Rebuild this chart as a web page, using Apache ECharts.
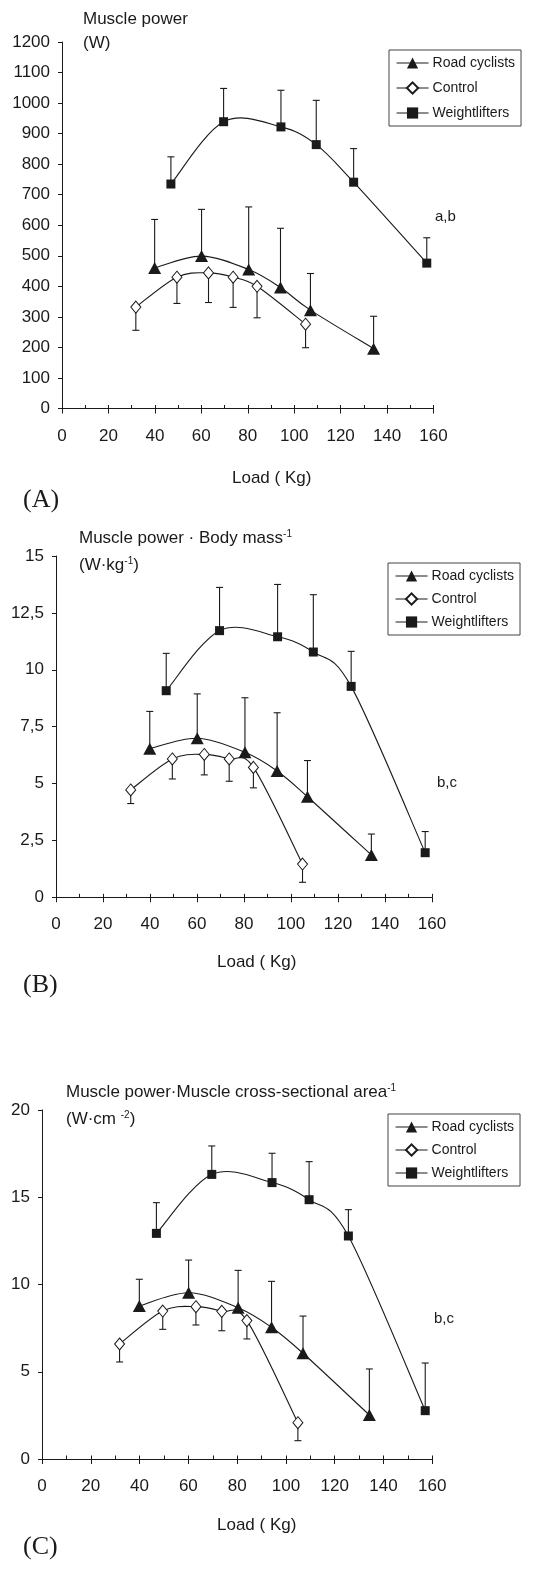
<!DOCTYPE html>
<html><head><meta charset="utf-8">
<script src="https://cdn.jsdelivr.net/npm/echarts@6/dist/echarts.min.js"></script>
<style>html,body{margin:0;padding:0;background:#fff}#c{width:557px;height:1589px}</style>
</head><body><div id="c"></div>
<script>
// ---- data ----
const seriesNames = ['Road cyclists', 'Control', 'Weightlifters'];
const loadCyclists = [39.9, 60.1, 80.4, 94.1, 107.0, 134.2];
const loadControl  = [31.8, 49.5, 63.1, 73.7, 84.0, 104.9];
const loadLifters  = [46.9, 69.6, 94.3, 109.5, 125.6, 157.1];

// (A) Muscle power (W)
const powerCyclists = [460, 499, 455, 396, 322, 196];
const powerCyclistsSD = [159, 153, 205, 194, 120, 106];
const powerControl = [332, 430, 444, 430, 400, 276];
const powerControlSD = [76, 86, 97, 99, 103, 77];
const powerLifters = [735, 939, 922, 864, 741, 476];
const powerLiftersSD = [89, 109, 120, 145, 110, 83];

// (B) Muscle power · body mass^-1 (W·kg^-1)
const massCyclists = [6.53, 6.99, 6.37, 5.55, 4.42, 1.86];
const massCyclistsSD = [1.64, 1.95, 2.40, 2.56, 1.59, 0.92];
const massControl = [4.72, 6.08, 6.28, 6.08, 5.71, 1.46];
const massControlSD = [0.60, 0.88, 0.90, 0.98, 0.90, 0.80];
const massLifters = [9.08, 11.72, 11.45, 10.78, 9.27, 1.96];
const massLiftersSD = [1.64, 1.90, 2.30, 2.52, 1.54, 0.93];

// (C) Muscle power · muscle CSA^-1 (W·cm^-2)
const csaCyclists = [8.77, 9.53, 8.67, 7.55, 6.06, 2.52];
const csaCyclistsSD = [1.53, 1.87, 2.14, 2.63, 2.13, 2.64];
const csaControl = [6.59, 8.48, 8.73, 8.46, 7.93, 2.08];
const csaControlSD = [1.03, 1.05, 1.05, 1.11, 1.05, 1.03];
const csaLifters = [12.93, 16.31, 15.84, 14.86, 12.78, 2.77];
const csaLiftersSD = [1.76, 1.63, 1.68, 2.18, 1.51, 2.73];

const annotations = ['a,b', 'b,c', 'b,c'];

// ---- styles ----
const FONT = '"Liberation Sans", Arial, sans-serif';
const INK = '#1a1a1a';
const panels = [
  { grid: { left: 62, top: 42, width: 371.5, height: 366.5 }, y: { max: 1200, interval: 100 },
    data: [[loadCyclists, powerCyclists, powerCyclistsSD, 1], [loadControl, powerControl, powerControlSD, -1], [loadLifters, powerLifters, powerLiftersSD, 1]],
    legend: { left: 389, top: 50, gap: 11 } },
  { grid: { left: 56, top: 556, width: 376, height: 341.3 }, y: { max: 15, interval: 2.5, comma: true },
    data: [[loadCyclists, massCyclists, massCyclistsSD, 1], [loadControl, massControl, massControlSD, -1], [loadLifters, massLifters, massLiftersSD, 1]],
    legend: { left: 388, top: 563, gap: 9 } },
  { grid: { left: 42, top: 1110, width: 390.3, height: 349 }, y: { max: 20, interval: 5 },
    data: [[loadCyclists, csaCyclists, csaCyclistsSD, 1], [loadControl, csaControl, csaControlSD, -1], [loadLifters, csaLifters, csaLiftersSD, 1]],
    legend: { left: 388, top: 1114, gap: 9 } }
];

const symbols = [
  { symbol: 'triangle', symbolSize: [13, 12], itemStyle: { color: INK, borderColor: INK, borderWidth: 0 } },
  { symbol: 'diamond', symbolSize: [10, 12], itemStyle: { color: '#fff', borderColor: INK, borderWidth: 1 } },
  { symbol: 'rect', symbolSize: [9, 9], itemStyle: { color: INK, borderColor: INK, borderWidth: 0 } }
];

function errRender(params, api) {
  const x = api.value(0), y = api.value(1), e = api.value(2);
  const p0 = api.coord([x, y]);
  const p1 = api.coord([x, e]);
  const st = { stroke: INK, lineWidth: 1.1 };
  return { type: 'group', children: [
    { type: 'line', shape: { x1: p0[0], y1: p0[1], x2: p1[0], y2: p1[1] }, style: st },
    { type: 'line', shape: { x1: p1[0] - 3.5, y1: p1[1], x2: p1[0] + 3.5, y2: p1[1] }, style: st }
  ]};
}

// Spreadsheet-style smoothed line (Catmull-Rom Bezier) through the data points, via the axes' coord()
function curveRender(xs, ys) {
  return function (params, api) {
    const j = params.dataIndex;
    if (j >= xs.length - 1) return null;
    const P = k => api.coord([xs[Math.max(0, Math.min(xs.length - 1, k))], ys[Math.max(0, Math.min(xs.length - 1, k))]]);
    const p0 = P(j - 1), p1 = P(j), p2 = P(j + 1), p3 = P(j + 2);
    const t = 1 / 6;
    return { type: 'bezierCurve',
      shape: { x1: p1[0], y1: p1[1], x2: p2[0], y2: p2[1],
        cpx1: p1[0] + (p2[0] - p0[0]) * t, cpy1: p1[1] + (p2[1] - p0[1]) * t,
        cpx2: p2[0] - (p3[0] - p1[0]) * t, cpy2: p2[1] - (p3[1] - p1[1]) * t },
      style: { stroke: INK, fill: null, lineWidth: 1.1 } };
  };
}

const grid = [], xAxis = [], yAxis = [], series = [], legend = [];
panels.forEach((p, i) => {
  const gMain = grid.length;
  grid.push(Object.assign({ containLabel: false }, p.grid));
  const gOver = grid.length;
  grid.push(Object.assign({ containLabel: false }, p.grid));
  xAxis.push({ gridIndex: gMain, type: 'value', min: 0, max: 160, interval: 20,
    axisLine: { lineStyle: { color: INK, width: 1 } },
    axisTick: { show: true, inside: false, length: 5, lineStyle: { color: INK } },
    axisLabel: { fontSize: 17, fontFamily: FONT, color: INK, margin: 19 },
    splitLine: { show: false } });
  yAxis.push({ gridIndex: gMain, type: 'value', min: 0, max: p.y.max, interval: p.y.interval,
    axisLine: { show: true, lineStyle: { color: INK, width: 1 } },
    axisTick: { show: true, inside: false, length: 4, lineStyle: { color: INK } },
    axisLabel: { fontSize: 17, fontFamily: FONT, color: INK, margin: 12,
      formatter: p.y.comma ? (v => String(v).replace('.', ',')) : (v => String(v)) },
    splitLine: { show: false } });
  // overlay axes for the upward minor ticks
  xAxis.push({ gridIndex: gOver, type: 'value', min: 0, max: 160, interval: 10,
    axisLine: { show: false }, axisLabel: { show: false }, splitLine: { show: false },
    axisTick: { show: true, inside: true, length: 3.5, lineStyle: { color: INK } } });
  yAxis.push({ gridIndex: gOver, type: 'value', min: 0, max: p.y.max, show: false });

  p.data.forEach((d, k) => {
    const [xs, ys, sds, dir] = d;
    series.push({
      type: 'custom', xAxisIndex: gMain, yAxisIndex: gMain, z: 1, silent: true,
      renderItem: errRender,
      data: xs.map((x, j) => [x, ys[j], ys[j] + dir * sds[j]])
    });
    series.push({
      type: 'custom', xAxisIndex: gMain, yAxisIndex: gMain, z: 2, silent: true,
      renderItem: curveRender(xs, ys),
      data: xs.map((x, j) => [x, ys[j]])
    });
    series.push(Object.assign({
      type: 'line', name: seriesNames[k], xAxisIndex: gMain, yAxisIndex: gMain, z: 3,
      showSymbol: true, animation: false,
      lineStyle: { color: INK, width: 1.1, opacity: 0 },
      data: xs.map((x, j) => [x, ys[j]])
    }, symbols[k]));
  });

  legend.push({ orient: 'vertical', left: p.legend.left, top: p.legend.top,
    itemWidth: 32, itemHeight: 14, itemGap: p.legend.gap, padding: [6, 6, 6, 7],
    borderColor: '#444', borderWidth: 1, backgroundColor: '#fff', selectedMode: false,
    lineStyle: { color: INK, width: 1.1, opacity: 1 },
    textStyle: { fontSize: 14, fontFamily: FONT, color: INK, padding: [0, 0, 0, -1] },
    data: seriesNames });
});

function txt(x, y, text, size, extra) {
  return { type: 'text', x: x, y: y, silent: true,
    style: Object.assign({ text: text, fontSize: size, fontFamily: FONT, fill: INK, verticalAlign: 'middle', align: 'left' }, extra || {}) };
}
const sup = { sup: { fontSize: 10, fontFamily: FONT, fill: INK, verticalAlign: 'top', padding: [0, 0, 6, 0] } };
const SERIF = '"Liberation Serif", "Times New Roman", serif';
const graphic = [
  txt(83, 19, 'Muscle power', 17),
  txt(83, 43, '(W)', 17),
  txt(232, 478, 'Load ( Kg)', 17),
  txt(23, 500, '(A)', 26, { fontFamily: SERIF }),
  txt(435, 217, annotations[0], 15),

  txt(79, 538, 'Muscle power · Body mass{sup|-1}', 17, { rich: sup }),
  txt(79, 565, '(W·kg{sup|-1})', 17, { rich: sup }),
  txt(217, 962, 'Load ( Kg)', 17),
  txt(23, 985, '(B)', 26, { fontFamily: SERIF }),
  txt(437, 783, annotations[1], 15),

  txt(66, 1092, 'Muscle power·Muscle cross-sectional area{sup|-1}', 17, { rich: sup }),
  txt(66, 1119, '(W·cm {sup|-2})', 17, { rich: sup }),
  txt(217, 1525, 'Load ( Kg)', 17),
  txt(23, 1547, '(C)', 26, { fontFamily: SERIF }),
  txt(434, 1319, annotations[2], 15)
];

const chart = echarts.init(document.getElementById('c'), null, { renderer: 'canvas' });
chart.setOption({ animation: false, backgroundColor: '#fff', grid, xAxis, yAxis, series, legend, graphic });
</script></body></html>
